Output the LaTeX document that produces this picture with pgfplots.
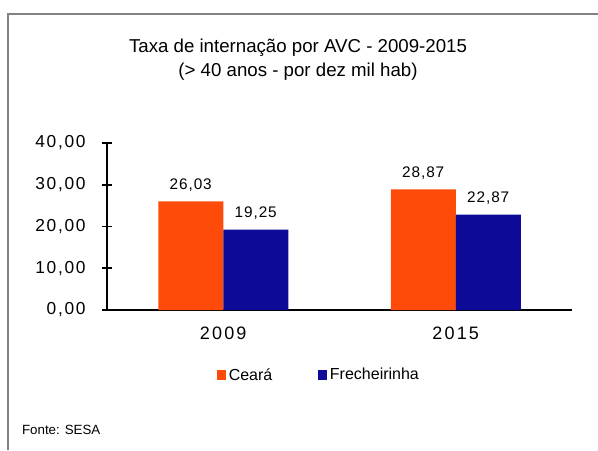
\documentclass[border=0pt]{standalone}
\usepackage{pgfplots}
\pgfplotsset{compat=1.18}
\usepackage{fontspec}
\setmainfont{Liberation Sans}
\definecolor{ceara}{RGB}{255,75,10}
\definecolor{frech}{RGB}{12,10,150}
\definecolor{framegray}{RGB}{130,130,130}

\begin{document}
\begin{tikzpicture}
% page = 598 x 450 px, 1 px = 0.75pt
\useasboundingbox (0,0) rectangle (448.5pt,337.5pt);
\draw[framegray, line width=0.8pt] (6pt,0pt) -- (6pt,327pt) -- (448.5pt,327pt);

\node[font=\fontsize{14}{16.5}\selectfont, align=center] at (223.5pt,293pt)
  {Taxa de internação por AVC - 2009-2015\\[1.5pt](> 40 anos - por dez mil hab)};

\begin{axis}[
  at={(80.25pt,105pt)}, anchor=south west,
  scale only axis, width=348.75pt, height=125.25pt,
  ybar=0pt, bar width=48.75pt,
  xmin=-0.5, xmax=1.5, ymin=0, ymax=40,
  axis x line=bottom, axis y line=left,
  axis line style={-, line width=1.4pt, black},
  xtick={0,1}, xticklabels={2009,2015},
  x tick style={draw=none},
  extra x ticks={0.5,1.5}, extra x tick labels={},
  extra x tick style={tick align=center, major tick length=8pt,
    tick style={draw=black, line width=1.2pt}},
  ytick={0,10,20,30,40},
  y tick style={line width=1.2pt, black},
  tick align=center, major tick length=7pt,
  xticklabel style={font=\fontsize{13.5}{15}\selectfont\addfontfeature{LetterSpace=12}, yshift=-6pt},
  yticklabel style={font=\fontsize{13}{14}\selectfont\addfontfeature{LetterSpace=10}, xshift=-9pt},
  yticklabel={\pgfmathprintnumber[fixed, fixed zerofill, precision=2, use comma]{\tick}},
  /pgf/number format/assume math mode=true,
  nodes near coords,
  nodes near coords style={font=\fontsize{11.5}{13}\selectfont\addfontfeature{LetterSpace=6},
    anchor=base, yshift=9pt,
    /pgf/number format/.cd, fixed, fixed zerofill, precision=2, use comma},
  legend style={at={(0.456,-0.39)}, anchor=center, draw=none, fill=none,
    font=\fontsize{12}{14}\selectfont, legend columns=2,
    /tikz/every even column/.append style={column sep=32pt}},
  legend image code/.code={\fill[#1] (0pt,-3.6pt) rectangle (7.2pt,3.6pt);},
  clip=false,
]
\addplot[fill=ceara, draw=none] coordinates {(0,26.03) (1,28.87)};
\addplot[fill=frech, draw=none] coordinates {(0,19.25) (1,22.87)};
\legend{Ceará, Frecheirinha}
\end{axis}

\node[anchor=west, font=\fontsize{10}{11}\selectfont] at (13pt,15pt) {Fonte: SESA};
\end{tikzpicture}
\end{document}
